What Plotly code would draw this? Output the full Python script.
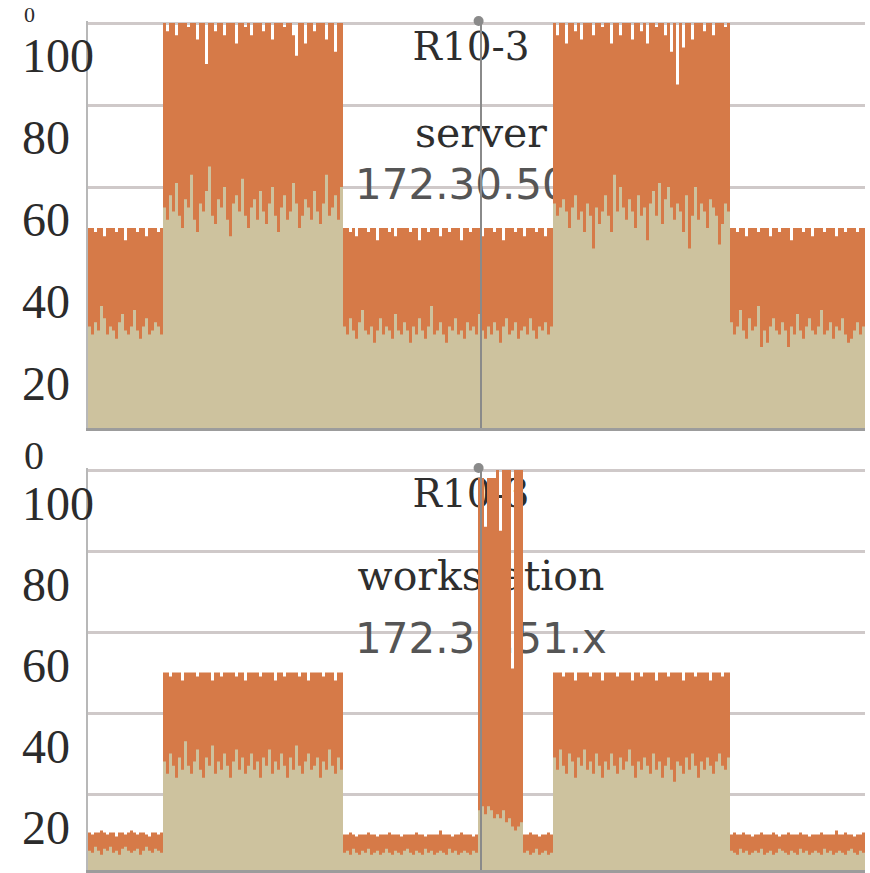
import numpy as np
import plotly.graph_objects as go

# ---------------------------------------------------------------------------
# CPU load samples (percent), one value per sample, grouped by load phase.
# "total" = top of the orange band, "user" = top of the beige band.
# ---------------------------------------------------------------------------

# server 172.30.50.x
srv_total_low1 = [50, 50, 49, 50, 50, 48, 50, 50, 50, 49, 50, 50, 47, 50, 50, 50, 49, 50, 50, 48, 50, 50, 50, 49, 50]
srv_user_low1 = [26, 24, 27, 25, 31, 28, 24, 26, 25, 23, 27, 29, 25, 24, 26, 30, 25, 23, 26, 28, 24, 25, 27, 26, 24]

srv_total_high1 = [100, 98, 100, 100, 97, 100, 100, 100, 99, 100, 100, 96, 100, 100, 90, 100, 100, 98, 100, 100,
                   97, 100, 100, 100, 95, 100, 100, 99, 100, 97, 100, 100, 100, 98, 100, 100, 96, 100, 100, 100,
                   99, 100, 100, 97, 92, 100, 100, 95, 100, 100, 98, 100, 100, 100, 96, 100, 100, 93, 100, 100]
srv_user_high1 = [55, 52, 58, 54, 61, 53, 50, 57, 55, 63, 52, 49, 56, 54, 59, 65, 53, 51, 57, 55,
                  60, 52, 48, 56, 58, 54, 62, 53, 50, 55, 57, 52, 59, 54, 51, 56, 60, 53, 49, 55,
                  58, 52, 54, 61, 56, 50, 53, 57, 55, 52, 59, 54, 51, 56, 63, 53, 55, 58, 52, 60]

srv_total_low2 = [50, 50, 49, 50, 48, 50, 50, 50, 49, 50, 50, 47, 50, 50, 50, 49, 50, 48, 50, 50,
                  50, 50, 49, 50, 50, 47, 50, 50, 49, 50, 50, 50, 48, 50, 50, 49, 50, 50, 50, 47,
                  50, 50, 49, 50, 50, 50, 48, 50, 50, 50, 49, 50, 50, 47, 50, 50, 50, 49, 50, 50,
                  48, 50, 50, 50, 49, 50, 50, 48, 50, 50]
srv_user_low2 = [26, 24, 28, 25, 23, 27, 30, 25, 24, 26, 22, 25, 28, 24, 26, 25, 23, 29, 25, 24,
                 27, 25, 22, 26, 24, 28, 25, 23, 26, 31, 24, 25, 27, 24, 22, 26, 25, 28, 24, 25,
                 23, 27, 25, 26, 24, 29, 25, 23, 26, 24, 27, 25, 22, 26, 28, 24, 25, 27, 23, 25,
                 26, 24, 28, 25, 23, 26, 25, 27, 24, 26]

srv_total_high2 = [100, 97, 100, 100, 95, 100, 100, 98, 100, 96, 100, 100, 100, 97, 100, 100, 99, 100, 100, 95,
                   100, 100, 97, 100, 100, 100, 96, 100, 100, 98, 100, 95, 100, 100, 99, 100, 100, 97, 100, 93,
                   100, 85, 100, 94, 100, 100, 96, 100, 100, 100, 98, 100, 100, 97, 100, 100, 100, 99, 100]
srv_user_high2 = [56, 53, 55, 57, 54, 50, 55, 58, 52, 54, 49, 56, 53, 45, 55, 51, 54, 58, 53, 49,
                  63, 54, 60, 55, 52, 57, 54, 50, 58, 53, 55, 47, 56, 59, 53, 61, 51, 57, 60, 55,
                  52, 56, 54, 49, 58, 45, 53, 60, 52, 56, 54, 50, 57, 55, 53, 46, 51, 56, 54]

srv_total_low3 = [50, 50, 49, 50, 50, 48, 50, 50, 50, 49, 50, 50, 50, 48, 50, 50, 49, 50, 50, 50,
                  47, 50, 50, 50, 49, 50, 50, 48, 50, 50, 50, 49, 50, 50, 50, 48, 50, 50, 49, 50,
                  50, 50, 49, 50, 50]
srv_user_low3 = [27, 24, 26, 30, 25, 23, 28, 25, 26, 31, 21, 25, 22, 26, 28, 25, 24, 27, 25, 21,
                 26, 24, 29, 25, 23, 26, 28, 25, 24, 26, 30, 24, 25, 27, 23, 26, 25, 28, 24, 22,
                 23, 25, 27, 24, 26]

# workstation 172.30.51.x
ws_total_idle1 = [10.5, 10, 10.5, 10.5, 11, 10.5, 10, 10.5, 10.5, 9.5, 10.5, 10.5, 10, 10.5, 11, 10.5, 10, 10.5,
                  10.5, 10, 9.5, 10.5, 10.5, 10, 10.5]
ws_user_idle1 = [6, 5.5, 7, 6, 5, 6.5, 6, 7, 5.5, 6, 5, 6.5, 7, 6, 5.5, 6, 6.5, 5, 6, 7, 6, 5.5, 6.5, 6, 5.5]

ws_total_busy1 = [50, 50, 49, 50, 50, 50, 48, 50, 50, 50, 50, 49, 50, 50, 50, 50, 48, 50, 50, 49,
                  50, 50, 50, 50, 49, 50, 50, 48, 50, 50, 50, 50, 49, 50, 50, 50, 50, 48, 50, 50,
                  49, 50, 50, 50, 50, 49, 50, 50, 48, 50, 50, 50, 50, 49, 50, 50, 50, 48, 50, 50]
ws_user_busy1 = [28, 25, 30, 27, 24, 29, 26, 33, 27, 25, 28, 31, 26, 24, 29, 27, 32, 25, 28, 26,
                 30, 27, 24, 28, 31, 26, 29, 25, 27, 30, 26, 28, 24, 29, 27, 31, 25, 28, 26, 30,
                 27, 24, 29, 26, 32, 27, 25, 28, 30, 26, 27, 29, 24, 28, 26, 31, 27, 25, 29, 26]

ws_total_idle2 = [10, 10, 10.5, 10, 9.5, 10, 10, 10, 10.5, 10, 10, 9.5, 10, 10, 10, 10.5, 10, 10, 10, 9.5,
                  10, 10, 10, 10, 10.5, 10, 10, 9.5, 10, 10, 10, 10, 11, 10, 10, 10, 9.5, 10, 10, 10.5,
                  10, 10, 10, 9.5, 10]
ws_user_idle2 = [5.5, 6, 5, 6.5, 5.5, 5, 6, 5.5, 6.5, 5, 5.5, 6, 5, 5.5, 6.5, 5.5, 5, 6, 5.5, 5,
                 6, 6.5, 5.5, 5, 6, 5.5, 5, 6.5, 5.5, 6, 5, 5.5, 6, 5.5, 5, 6.5, 5.5, 6, 5, 5.5,
                 6, 5.5, 5, 6, 5.5]

ws_total_spike = [98, 98, 86, 98, 98, 98, 100, 85, 100, 100, 100, 51, 100, 100, 100]
ws_user_spike = [16, 17, 15, 17, 16, 14, 15, 14, 16, 13, 14, 12, 11, 12, 13]

ws_total_idle3 = [10, 10, 10.5, 10, 10, 9.5, 10, 10, 10.5, 10]
ws_user_idle3 = [5.5, 6, 5, 5.5, 6.5, 5, 5.5, 6, 5, 5.5]

ws_total_busy2 = [50, 50, 50, 49, 50, 50, 50, 48, 50, 50, 50, 50, 49, 50, 50, 50, 48, 50, 50, 50,
                  50, 49, 50, 50, 50, 50, 48, 50, 50, 49, 50, 50, 50, 50, 48, 50, 50, 50, 49, 50,
                  50, 50, 50, 48, 50, 50, 50, 49, 50, 50, 50, 50, 48, 50, 50, 50, 49, 50, 50]
ws_user_busy2 = [29, 26, 31, 27, 25, 30, 28, 24, 29, 27, 31, 26, 28, 25, 30, 27, 24, 28, 26, 30,
                 27, 25, 29, 26, 28, 31, 27, 24, 28, 26, 29, 27, 25, 30, 26, 28, 24, 27, 29, 26,
                 23, 28, 27, 25, 29, 26, 30, 27, 24, 28, 26, 29, 27, 25, 28, 30, 27, 26, 29]

ws_total_idle4 = [10, 10.5, 10, 10, 10.5, 10, 10, 9.5, 10, 10, 10.5, 10, 10, 10, 10.5, 10, 9.5, 10, 10, 10.5,
                  10, 10, 10, 10.5, 10, 10, 9.5, 10, 10, 10, 10.5, 10, 10, 10, 10, 11, 10, 10, 10.5, 10,
                  10, 9.5, 10, 10, 10.5]
ws_user_idle4 = [6, 5.5, 5, 6.5, 5.5, 6, 5, 5.5, 6, 5.5, 6.5, 5, 5.5, 6, 5, 5.5, 6.5, 6, 5.5, 5,
                 6, 5.5, 5, 6.5, 5.5, 6, 5, 5.5, 6, 5.5, 5, 6.5, 5.5, 6, 5, 5.5, 6, 5.5, 5, 6,
                 6.5, 5.5, 5, 6, 5.5]

srv_total = srv_total_low1 + srv_total_high1 + srv_total_low2 + srv_total_high2 + srv_total_low3
srv_user = srv_user_low1 + srv_user_high1 + srv_user_low2 + srv_user_high2 + srv_user_low3
ws_total = (ws_total_idle1 + ws_total_busy1 + ws_total_idle2 + ws_total_spike
            + ws_total_idle3 + ws_total_busy2 + ws_total_idle4)
ws_user = (ws_user_idle1 + ws_user_busy1 + ws_user_idle2 + ws_user_spike
           + ws_user_idle3 + ws_user_busy2 + ws_user_idle4)

N = len(srv_total)
assert len(srv_user) == N and len(ws_total) == N and len(ws_user) == N

# tick labels of the value axis
tick_values = [20, 40, 60, 80, 100]
tick_text = ["20", "40", "60", "80", "100"]

# time cursor position (sample index)
cursor_x = 131.0

ORANGE = "#D67A48"
BEIGE = "#CDC29E"
GRID = "#CFC9C9"
TICK_FONT = dict(family="Liberation Serif, DejaVu Serif, serif", size=48, color="#2b2b2b")
NAME_FONT = dict(family="DejaVu Serif, Liberation Serif, serif", size=41, color="#2e2e2e")
ADDR_FONT = dict(family="DejaVu Sans, Liberation Sans, sans-serif", size=42, color="#555555")

W, H = 870, 873
X0, X1 = 88, 865

panels = [
    dict(total=srv_total, user=srv_user, top=21, bottom=428, ppu=4.1, y100=23,
         label_shift=7.8, host="R10-3", role="server", addr="172.30.50.x",
         text_y=[93.4, 72.3, 59.6]),
    dict(total=ws_total, user=ws_user, top=468, bottom=870, ppu=4.05, y100=470,
         label_shift=8.2, host="R10-3", role="workstation", addr="172.30.51.x",
         text_y=[93.3, 73.0, 57.3]),
]

fig = go.Figure()
x_edges = np.arange(N + 1)

layout = dict(
    width=W, height=H, margin=dict(l=0, r=0, t=0, b=0),
    paper_bgcolor="white", plot_bgcolor="white", showlegend=False,
)

for i, p in enumerate(panels):
    n = i + 1
    xa = "x" if n == 1 else f"x{n}"
    ya = "y" if n == 1 else f"y{n}"
    lab = f"y{n + 2}"
    y_lo = 100 - (p["bottom"] - p["y100"]) / p["ppu"]
    y_hi = 100 - (p["top"] - p["y100"]) / p["ppu"]

    # host / role / address captions sit underneath the load bands
    fig.add_trace(go.Scatter(
        x=[cursor_x - 3.3, cursor_x, cursor_x], y=p["text_y"],
        text=[p["host"], p["role"], p["addr"]], mode="text",
        textposition="middle center",
        textfont=dict(family=[NAME_FONT["family"], NAME_FONT["family"], ADDR_FONT["family"]],
                      size=[39, NAME_FONT["size"], ADDR_FONT["size"]],
                      color=[NAME_FONT["color"], NAME_FONT["color"], ADDR_FONT["color"]]),
        xaxis=xa, yaxis=ya, hoverinfo="skip", cliponaxis=False,
    ))

    total = list(p["total"]) + [p["total"][-1]]
    user = list(p["user"]) + [p["user"][-1]]
    fig.add_trace(go.Scatter(
        x=x_edges, y=total, mode="lines", line=dict(width=0, shape="hv"),
        fill="tozeroy", fillcolor=ORANGE, xaxis=xa, yaxis=ya, hoverinfo="skip",
    ))
    fig.add_trace(go.Scatter(
        x=x_edges, y=user, mode="lines", line=dict(width=0, shape="hv"),
        fill="tozeroy", fillcolor=BEIGE, xaxis=xa, yaxis=ya, hoverinfo="skip",
    ))

    # time cursor with its handle
    fig.add_trace(go.Scatter(
        x=[cursor_x, cursor_x], y=[y_lo, y_hi], mode="lines",
        line=dict(color="#8a8a8a", width=2), xaxis=xa, yaxis=ya, hoverinfo="skip",
    ))
    fig.add_trace(go.Scatter(
        x=[cursor_x - 0.8], y=[y_hi], mode="markers",
        marker=dict(color="#8a8a8a", size=10), xaxis=xa, yaxis=ya,
        hoverinfo="skip", cliponaxis=False,
    ))
    # empty trace that keeps the tick-label axis alive
    fig.add_trace(go.Scatter(x=[None], y=[None], xaxis=xa, yaxis=lab, hoverinfo="skip"))

    dom_y = [1 - p["bottom"] / H, 1 - p["top"] / H]
    layout[f"xaxis{'' if n == 1 else n}"] = dict(
        domain=[X0 / W, X1 / W], range=[0, N], anchor=ya,
        showgrid=False, showticklabels=False, ticks="", zeroline=False,
        showline=True, linecolor="#9c9c9c", linewidth=3, fixedrange=True,
    )
    layout[f"yaxis{'' if n == 1 else n}"] = dict(
        domain=dom_y, range=[y_lo, y_hi], anchor=xa,
        tick0=0, dtick=20, showgrid=True, gridcolor=GRID, gridwidth=3,
        showticklabels=False, ticks="", zeroline=False,
        showline=True, linecolor="#b8b8b8", linewidth=2, fixedrange=True,
    )
    layout[f"yaxis{n + 2}"] = dict(
        overlaying=ya, anchor="free", position=18 / W, side="left",
        range=[y_lo + p["label_shift"], y_hi + p["label_shift"]],
        tickvals=tick_values, ticktext=tick_text, ticklabelposition="inside",
        ticklabeloverflow="allow", tickfont=TICK_FONT,
        showgrid=False, zeroline=False, showline=False, ticks="", fixedrange=True,
    )

# the "0" labels of the neighbouring panels peek out above each panel:
# (box top px, font size)
zero_peeks = [(0, 22), (431, 40)]
annotations = []
for box_top, size in zero_peeks:
    annotations.append(dict(
        text="0", xref="paper", yref="paper", x=22 / W, xanchor="left",
        y=1 - box_top / H, yanchor="top", showarrow=False,
        font=dict(family=TICK_FONT["family"], size=size, color=TICK_FONT["color"]),
    ))
layout["annotations"] = annotations

fig.update_layout(**layout)
fig.write_html("out.html")
